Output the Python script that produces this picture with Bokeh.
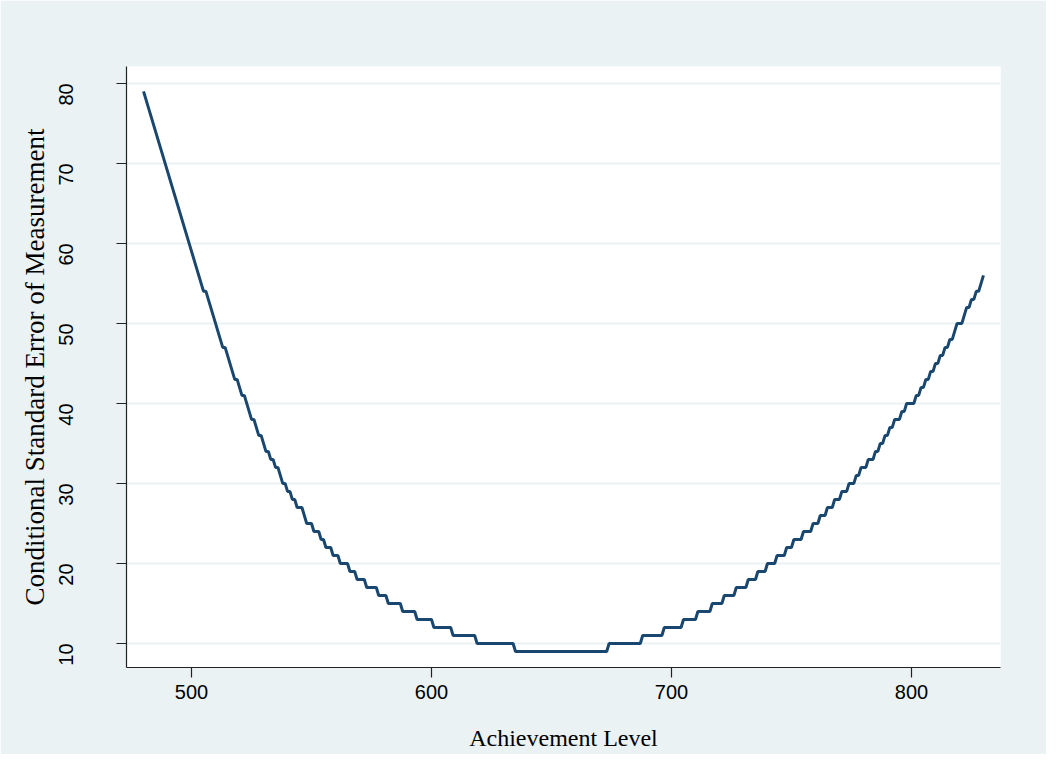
import math
from bokeh.plotting import figure
from bokeh.models import FixedTicker
from bokeh.embed import file_html
from bokeh.resources import INLINE

# CSEM plateaus: (score from, score to, CSEM)
score_lo = [480, 481, 482, 483, 484, 485, 486, 487, 488, 489,
            490, 491, 492, 493, 494, 495, 496, 497, 498, 499,
            500, 501, 502, 503, 504, 505, 507, 508, 509, 510,
            511, 512, 513, 515, 516, 517, 518, 520, 521, 523,
            524, 525, 527, 528, 530, 531, 533, 535, 537, 538,
            540, 542, 544, 547, 548, 551, 554, 556, 559, 562,
            566, 569, 573, 578, 582, 588, 594, 601, 609, 619,
            635,
            674, 688, 697, 705, 711, 717, 722, 727, 732, 736,
            740, 744, 748, 751, 755, 759, 762, 765, 768, 771,
            774, 777, 779, 782, 785, 787, 789, 791, 793, 796,
            798, 802, 804, 806, 808, 810, 812, 814, 816, 818,
            819, 822, 823, 825, 827, 829, 830]
score_hi = [480, 481, 482, 483, 484, 485, 486, 487, 488, 489,
            490, 491, 492, 493, 494, 495, 496, 497, 498, 499,
            500, 501, 502, 503, 504, 506, 507, 508, 509, 510,
            511, 512, 514, 515, 516, 517, 519, 520, 522, 523,
            524, 526, 527, 529, 530, 532, 534, 536, 537, 539,
            541, 543, 546, 547, 550, 553, 555, 558, 561, 565,
            568, 572, 577, 581, 587, 593, 600, 608, 618, 634,
            673,
            687, 696, 704, 710, 716, 721, 726, 731, 735, 739,
            743, 747, 750, 754, 758, 761, 764, 767, 770, 773,
            776, 778, 781, 784, 786, 788, 790, 792, 795, 797,
            801, 803, 805, 807, 809, 811, 813, 815, 817, 818,
            821, 822, 824, 826, 828, 829, 830]
csem = [79, 78, 77, 76, 75, 74, 73, 72, 71, 70,
        69, 68, 67, 66, 65, 64, 63, 62, 61, 60,
        59, 58, 57, 56, 55, 54, 53, 52, 51, 50,
        49, 48, 47, 46, 45, 44, 43, 42, 41, 40,
        39, 38, 37, 36, 35, 34, 33, 32, 31, 30,
        29, 28, 27, 26, 25, 24, 23, 22, 21, 20,
        19, 18, 17, 16, 15, 14, 13, 12, 11, 10,
        9,
        10, 11, 12, 13, 14, 15, 16, 17, 18, 19,
        20, 21, 22, 23, 24, 25, 26, 27, 28, 29,
        30, 31, 32, 33, 34, 35, 36, 37, 38, 39,
        40, 41, 42, 43, 44, 45, 46, 47, 48, 49,
        50, 51, 52, 53, 54, 55, 56]

x_ticks = [500, 600, 700, 800]
y_ticks = [10, 20, 30, 40, 50, 60, 70, 80]
x_title = "Achievement Level"
y_title = "Conditional Standard Error of Measurement"

xs, ys = [], []
for lo, hi, c in zip(score_lo, score_hi, csem):
    xs.append(lo); ys.append(c)
    if hi != lo:
        xs.append(hi); ys.append(c)

BG = "#EAF2F3"
p = figure(width=1046, height=754, x_range=(472.9, 837.1), y_range=(7.0, 82.1),
           output_backend="svg", toolbar_location=None,
           min_border_left=126, min_border_right=46, min_border_top=66, min_border_bottom=87)
p.background_fill_color = "white"
p.border_fill_color = BG
p.outline_line_color = None

p.line(xs, ys, line_color="#1A476F", line_width=3)

p.xgrid.visible = False
p.ygrid.grid_line_color = BG
p.ygrid.grid_line_width = 2
p.xaxis.ticker = FixedTicker(ticks=x_ticks)
p.yaxis.ticker = FixedTicker(ticks=y_ticks)

for ax in (p.xaxis[0], p.yaxis[0]):
    ax.axis_line_color = "#222222"
    ax.axis_line_width = 1.2
    ax.major_tick_line_color = "#222222"
    ax.major_tick_line_width = 1.2
    ax.major_tick_out = 10
    ax.major_tick_in = 0
    ax.minor_tick_line_color = None
    ax.major_label_text_font = "Liberation Sans"
    ax.major_label_text_font_size = "20px"
    ax.major_label_text_color = "black"
    ax.axis_label_text_font = "Liberation Serif"
    ax.axis_label_text_font_style = "normal"
    ax.axis_label_text_color = "black"

p.xaxis.axis_label = x_title
p.yaxis.axis_label = y_title
p.xaxis.axis_label_text_font_size = "24px"
p.yaxis.axis_label_text_font_size = "27px"
p.xaxis.major_label_standoff = 7
p.xaxis.axis_label_standoff = 23
p.yaxis.major_label_orientation = math.pi / 2
p.yaxis.major_label_standoff = 50
p.yaxis.axis_label_standoff = 0

open("out.html", "w").write(file_html(p, INLINE))
